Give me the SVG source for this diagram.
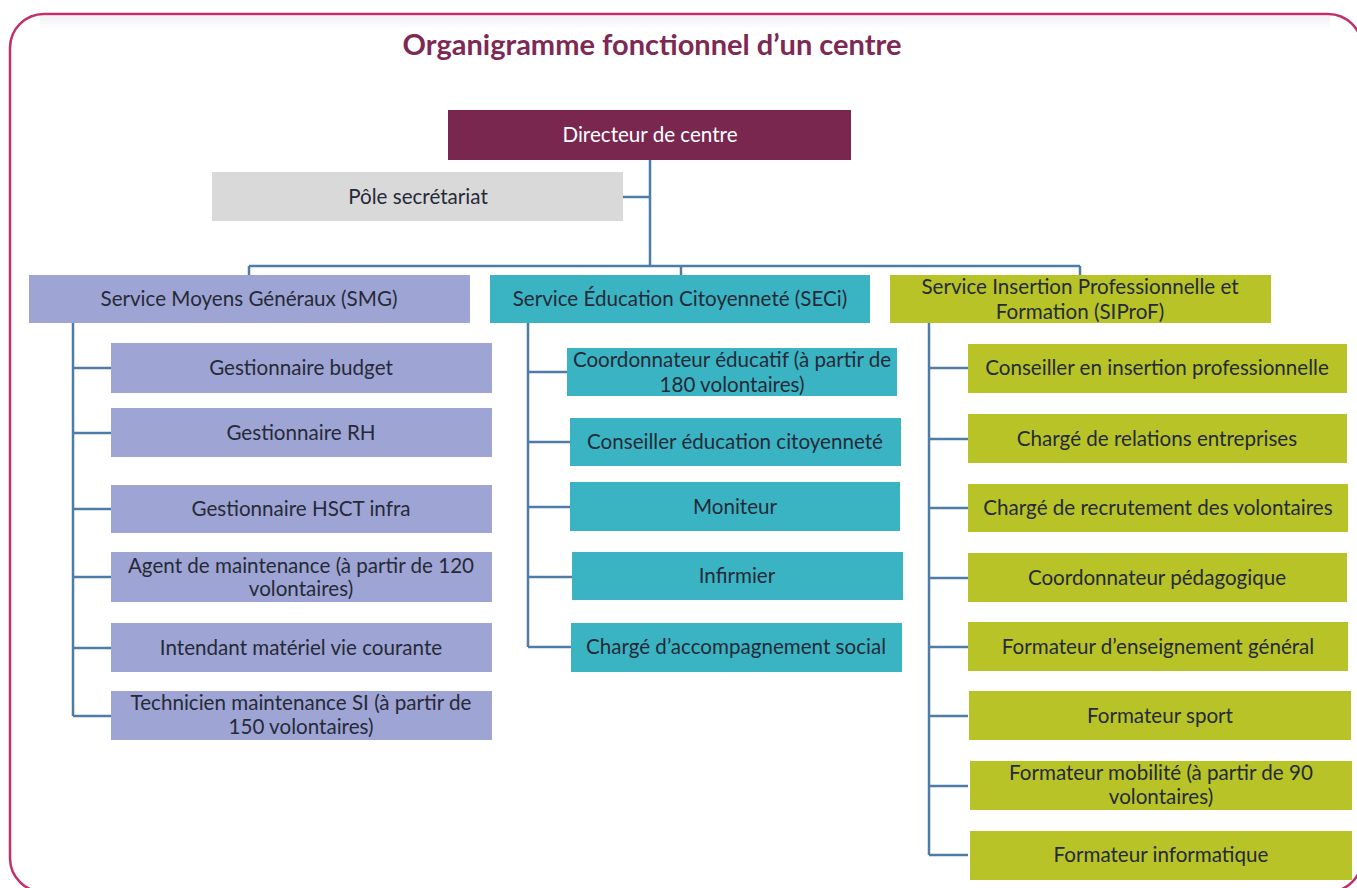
<svg xmlns="http://www.w3.org/2000/svg" width="1357" height="888" viewBox="0 0 1357 888">
<defs>
<style>
.t{font-family:Lato,"Open Sans","Liberation Sans",sans-serif;font-size:20.6px;fill:#262a38;text-anchor:middle}
.w{fill:#ffffff}
.title{font-family:Lato,"Open Sans","Liberation Sans",sans-serif;font-size:29px;font-weight:bold;fill:#7d2954;text-anchor:middle}
.c{fill:none;stroke:#4d7ca6;stroke-width:2.5}
.smg{fill:#9ea4d3}
.seci{fill:#3ab4c2}
.sip{fill:#b7c327}
</style>
<linearGradient id="topfade" x1="0" y1="0" x2="0" y2="1">
<stop offset="0" stop-color="#e9e9ee"/>
<stop offset="1" stop-color="#ffffff"/>
</linearGradient>
</defs>
<rect x="0" y="0" width="1357" height="888" fill="#ffffff"/>
<rect id="frame" x="10" y="14" width="1352" height="878" rx="34" fill="#ffffff" stroke="#c2306b" stroke-width="2.5"/>
<rect x="40" y="16" width="1290" height="14" fill="url(#topfade)" opacity="0.6"/>
<text class="title" x="652" y="55">Organigramme fonctionnel d’un centre</text>

<g id="connectors">
<path class="c" d="M650 160 V266 M623 197 H650 M249 266 H1080 M249 266 V275 M681 266 V275 M1080 266 V275"/>
<path class="c" d="M73 323 V716 M73 368 H111 M73 433 H111 M73 509 H111 M73 577 H111 M73 648 H111 M73 716 H111"/>
<path class="c" d="M528 323 V647 M528 372 H568 M528 442 H570 M528 507 H570 M528 577 H572 M528 647 H571"/>
<path class="c" d="M929 323 V855 M929 368 H968 M929 439 H968 M929 508 H968 M929 578 H968 M929 647 H968 M929 716 H968 M929 786 H968 M929 855 H968"/>
</g>

<g id="directeur"><rect x="448" y="110" width="403" height="50" fill="#7a2750"/><text class="t w" x="650" y="142">Directeur de centre</text></g>
<g id="pole"><rect x="212" y="172" width="411" height="49" fill="#d9d9d9"/><text class="t" x="418" y="204">Pôle secrétariat</text></g>

<g id="smg"><rect class="smg" x="29" y="275" width="441" height="48"/><text class="t" x="249" y="306">Service Moyens Généraux (SMG)</text></g>
<g id="smg1"><rect class="smg" x="111" y="343" width="381" height="50"/><text class="t" x="301" y="375">Gestionnaire budget</text></g>
<g id="smg2"><rect class="smg" x="111" y="408" width="381" height="49"/><text class="t" x="301" y="440">Gestionnaire RH</text></g>
<g id="smg3"><rect class="smg" x="111" y="485" width="381" height="48"/><text class="t" x="301" y="516">Gestionnaire HSCT infra</text></g>
<g id="smg4"><rect class="smg" x="111" y="552" width="381" height="50"/><text class="t" x="301" y="573">Agent de maintenance (à partir de 120</text><text class="t" x="301" y="596">volontaires)</text></g>
<g id="smg5"><rect class="smg" x="111" y="623" width="381" height="49"/><text class="t" x="301" y="655">Intendant matériel vie courante</text></g>
<g id="smg6"><rect class="smg" x="111" y="691" width="381" height="49"/><text class="t" x="301" y="710">Technicien maintenance SI (à partir de</text><text class="t" x="301" y="734">150 volontaires)</text></g>

<g id="seci"><rect class="seci" x="490" y="275" width="380" height="48"/><text class="t" x="680" y="306">Service Éducation Citoyenneté (SECi)</text></g>
<g id="seci1"><rect class="seci" x="567" y="348" width="330" height="48"/><text class="t" x="732" y="367">Coordonnateur éducatif (à partir de</text><text class="t" x="732" y="392">180 volontaires)</text></g>
<g id="seci2"><rect class="seci" x="570" y="418" width="331" height="48"/><text class="t" x="735" y="449">Conseiller éducation citoyenneté</text></g>
<g id="seci3"><rect class="seci" x="570" y="482" width="330" height="49"/><text class="t" x="735" y="514">Moniteur</text></g>
<g id="seci4"><rect class="seci" x="572" y="552" width="331" height="48"/><text class="t" x="737" y="583">Infirmier</text></g>
<g id="seci5"><rect class="seci" x="571" y="623" width="331" height="49"/><text class="t" x="736" y="654">Chargé d’accompagnement social</text></g>

<g id="siprof"><rect class="sip" x="890" y="275" width="381" height="48"/><text class="t" x="1080" y="294">Service Insertion Professionnelle et</text><text class="t" x="1080" y="319">Formation (SIProF)</text></g>
<g id="sip1"><rect class="sip" x="968" y="344" width="379" height="49"/><text class="t" x="1157" y="375">Conseiller en insertion professionnelle</text></g>
<g id="sip2"><rect class="sip" x="968" y="414" width="379" height="49"/><text class="t" x="1157" y="446">Chargé de relations entreprises</text></g>
<g id="sip3"><rect class="sip" x="968" y="484" width="380" height="48"/><text class="t" x="1158" y="515">Chargé de recrutement des volontaires</text></g>
<g id="sip4"><rect class="sip" x="968" y="553" width="379" height="49"/><text class="t" x="1157" y="585">Coordonnateur pédagogique</text></g>
<g id="sip5"><rect class="sip" x="968" y="622" width="380" height="49"/><text class="t" x="1158" y="654">Formateur d’enseignement général</text></g>
<g id="sip6"><rect class="sip" x="969" y="691" width="382" height="49"/><text class="t" x="1160" y="723">Formateur sport</text></g>
<g id="sip7"><rect class="sip" x="970" y="761" width="382" height="49"/><text class="t" x="1161" y="780">Formateur mobilité (à partir de 90</text><text class="t" x="1161" y="804">volontaires)</text></g>
<g id="sip8"><rect class="sip" x="970" y="831" width="382" height="49"/><text class="t" x="1161" y="862">Formateur informatique</text></g>
</svg>
